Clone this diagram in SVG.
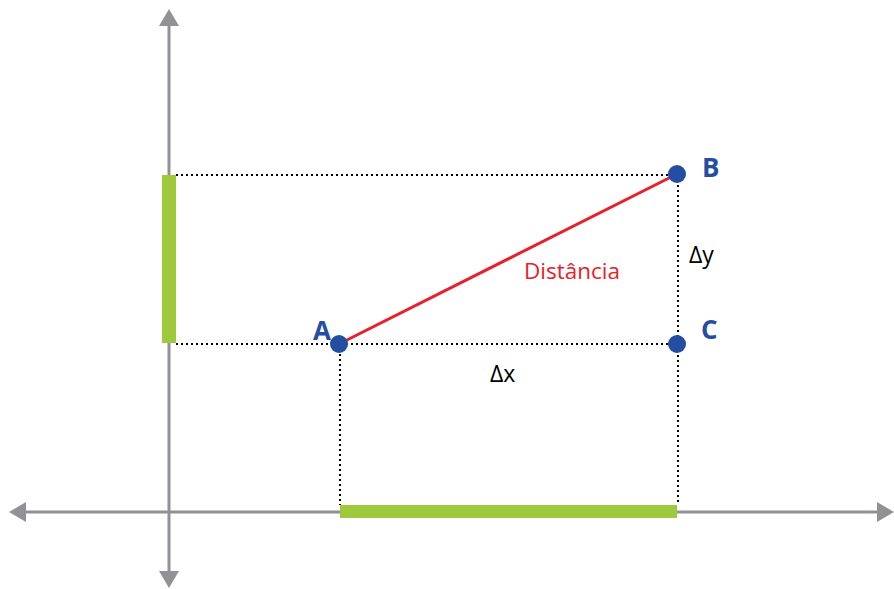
<svg xmlns="http://www.w3.org/2000/svg" width="894" height="589" viewBox="0 0 894 589">
<style>
.axis{stroke:#929296;stroke-width:3;fill:none}
.head{fill:#929296}
.dot{stroke:#000;stroke-width:2;stroke-dasharray:2 3;fill:none}
.bar{fill:#9dc93a}
.pt{fill:#234ea2}
.lbl{font-family:"Open Sans","Liberation Sans",sans-serif;font-weight:bold;font-size:26px;fill:#234ea2}
.txt{font-family:"Open Sans","Liberation Sans",sans-serif;font-size:23px;fill:#000}
</style>
<rect width="894" height="589" fill="#fff"/>
<g id="axes">
<line class="axis" x1="169" y1="22" x2="169" y2="576"/>
<polygon class="head" points="169,9 159,26 179,26"/>
<polygon class="head" points="169,588 159,571 179,571"/>
<line class="axis" x1="22" y1="512" x2="882" y2="512"/>
<polygon class="head" points="9,512 26,502 26,522"/>
<polygon class="head" points="894,512 877,502 877,522"/>
</g>
<g id="bars">
<rect class="bar" x="162" y="175" width="14" height="168"/>
<rect class="bar" x="340" y="505" width="337" height="13"/>
</g>
<g id="connectors">
<line class="dot" x1="176" y1="175" x2="677" y2="175"/>
<line class="dot" x1="176" y1="344" x2="677" y2="344"/>
<line class="dot" x1="340" y1="344" x2="340" y2="505"/>
<line class="dot" x1="678" y1="175" x2="678" y2="505"/>
<line x1="339" y1="344" x2="677" y2="174" stroke="#e8202a" stroke-width="3"/>
</g>
<g id="A"><circle class="pt" cx="339" cy="344" r="9"/><text class="lbl" x="313" y="340">A</text></g>
<g id="B"><circle class="pt" cx="677" cy="174" r="9"/><text class="lbl" x="702" y="177">B</text></g>
<g id="C"><circle class="pt" cx="677" cy="344" r="9"/><text class="lbl" x="701" y="339">C</text></g>
<g id="labels">
<text x="524" y="279" font-family="Open Sans, Liberation Sans, sans-serif" font-size="22.5" fill="#e8202a">Distância</text>
<text class="txt" x="490" y="382">Δx</text>
<text class="txt" x="689" y="263">Δy</text>
</g>
</svg>
